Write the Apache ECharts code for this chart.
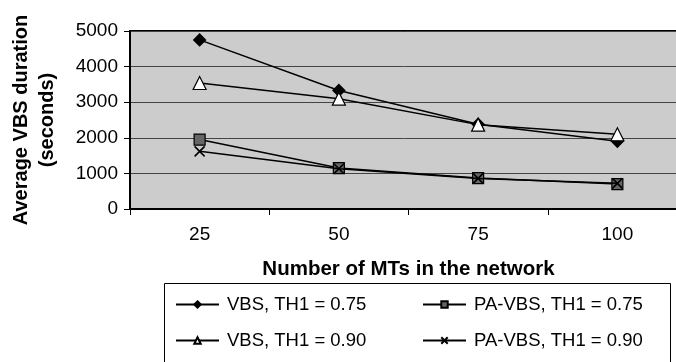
<!DOCTYPE html>
<html>
<head>
<meta charset="utf-8">
<script src="https://cdn.jsdelivr.net/npm/echarts@6/dist/echarts.min.js"></script>
<style>
  html, body { margin: 0; padding: 0; background: #fff; }
  #chart { width: 676px; height: 362px; }
</style>
</head>
<body>
<div id="chart"></div>
<script>
const categories = ['25', '50', '75', '100'];
const vbs075 = [4750, 3330, 2380, 1900];
const vbs090 = [3540, 3100, 2370, 2100];
const pavbs075 = [1950, 1150, 870, 700];
const pavbs090 = [1620, 1130, 860, 720];
const seriesNames = ['VBS, TH1 = 0.75', 'VBS, TH1 = 0.90', 'PA-VBS, TH1 = 0.75', 'PA-VBS, TH1 = 0.90'];

const font = 'Liberation Sans, Arial, sans-serif';
const crossPath = 'path://M0,0L10,10M10,0L0,10';

const chart = echarts.init(document.getElementById('chart'));

const lineSeries = (name, data, symbol, size, fill, z) => ({
  name,
  type: 'line',
  data,
  symbol,
  symbolSize: size,
  showAllSymbol: true,
  z,
  lineStyle: { color: '#000', width: 1.5 },
  itemStyle: { color: fill, borderColor: '#000', borderWidth: symbol === crossPath ? 1.6 : 1.2 },
  emphasis: { disabled: true },
  animation: false
});

const legendCommon = {
  orient: 'vertical',
  itemWidth: 43,
  itemHeight: 8,
  itemGap: 17,
  textStyle: { fontFamily: font, fontSize: 18.5, color: '#000', padding: [0, 0, 0, 3] },
  selectedMode: false
};

chart.setOption({
  animation: false,
  backgroundColor: '#fff',
  grid: {
    left: 130, right: -11, top: 31, bottom: 153,
    outerBoundsMode: 'none',
    containLabel: false,
    show: true, backgroundColor: '#cccccc', borderColor: '#000', borderWidth: 2
  },
  graphic: [{
    type: 'rect',
    shape: { x: 164.5, y: 283.5, width: 506, height: 100 },
    style: { fill: 'none', stroke: '#000', lineWidth: 1 },
    z: -1
  }],
  legend: [
    Object.assign({}, legendCommon, { left: 170, top: 290, data: [seriesNames[0], seriesNames[1]] }),
    Object.assign({}, legendCommon, { left: 417, top: 290, data: [seriesNames[2], seriesNames[3]] })
  ],
  xAxis: {
    type: 'category',
    data: categories,
    boundaryGap: true,
    name: 'Number of MTs in the network',
    nameLocation: 'middle',
    nameGap: 50,
    nameTextStyle: { fontFamily: font, fontSize: 20.5, fontWeight: 'bold', color: '#000' },
    axisLine: { lineStyle: { color: '#000', width: 2 } },
    axisTick: { show: true, inside: false, length: 6, alignWithLabel: false, lineStyle: { color: '#000', width: 1 } },
    axisLabel: { fontFamily: font, fontSize: 19, color: '#000', margin: 16 },
    splitLine: { show: false }
  },
  yAxis: {
    type: 'value',
    min: 0,
    max: 5000,
    interval: 1000,
    name: 'Average VBS duration\n(seconds)',
    nameLocation: 'middle',
    nameGap: 70,
    nameRotate: 90,
    nameTextStyle: { fontFamily: font, fontSize: 20, fontWeight: 'bold', color: '#000', lineHeight: 26 },
    axisLine: { show: true, lineStyle: { color: '#000', width: 2 } },
    axisTick: { show: true, inside: false, length: 6, lineStyle: { color: '#000', width: 1 } },
    axisLabel: { fontFamily: font, fontSize: 19, color: '#000', margin: 12, formatter: (v) => String(v) },
    splitLine: { show: true, lineStyle: { color: '#444', width: 1 } }
  },
  series: [
    lineSeries(seriesNames[0], vbs075, 'diamond', 12, '#000', 3),
    lineSeries(seriesNames[1], vbs090, 'triangle', 13, '#fff', 4),
    lineSeries(seriesNames[2], pavbs075, 'rect', 11, '#666', 5),
    lineSeries(seriesNames[3], pavbs090, crossPath, 10, 'none', 6)
  ]
});
</script>
</body>
</html>
